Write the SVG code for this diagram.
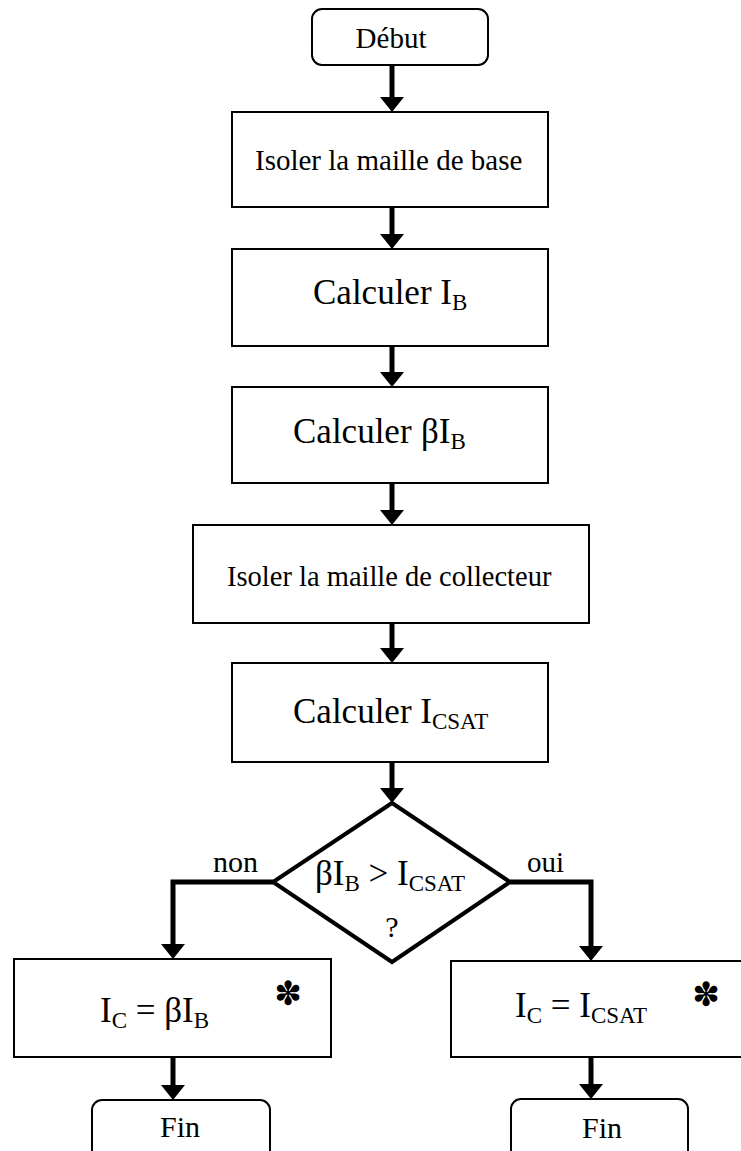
<svg xmlns="http://www.w3.org/2000/svg" width="741" height="1151" viewBox="0 0 741 1151">
<style>
.box{fill:#fff;stroke:#000;stroke-width:2}
.dia{fill:#fff;stroke:#000;stroke-width:4;stroke-linejoin:miter}
.con{fill:none;stroke:#000;stroke-width:5;marker-end:url(#ah)}
.t{font-family:"Liberation Serif","Times New Roman",serif;fill:#000}
.star{font-family:"DejaVu Sans",sans-serif;fill:#000;font-size:33px;text-anchor:middle}
</style>
<defs>
<marker id="ah" viewBox="0 -12 15 24" refX="5" refY="0" markerWidth="15" markerHeight="24" markerUnits="userSpaceOnUse" orient="auto">
<path d="M0,-12 L15,0 L0,12 z" fill="#000"/>
</marker>
</defs>
<rect width="741" height="1151" fill="#fff"/>
<g id="connectors">
<path class="con" d="M392,65 V102"/>
<path class="con" d="M392,207 V239"/>
<path class="con" d="M392,346 V377"/>
<path class="con" d="M392,483 V515"/>
<path class="con" d="M392,623 V653"/>
<path class="con" d="M392,762 V793"/>
<path class="con" d="M273,882 H173 V949"/>
<path class="con" d="M510,882 H591 V951"/>
<path class="con" d="M173,1057 V1090"/>
<path class="con" d="M591,1057 V1089"/>
</g>
<g id="debut">
<rect class="box" x="312" y="9" width="176" height="56" rx="10"/>
<text class="t" x="391" y="48" font-size="29" text-anchor="middle">Début</text>
</g>
<g id="isoler-base">
<rect class="box" x="232" y="112" width="316" height="95"/>
<text class="t" x="255" y="170" font-size="29">Isoler la maille de base</text>
</g>
<g id="calc-ib">
<rect class="box" x="232" y="249" width="316" height="97"/>
<text class="t" x="313" y="304" font-size="35">Calculer I<tspan font-size="23" dy="6">B</tspan></text>
</g>
<g id="calc-bib">
<rect class="box" x="232" y="387" width="316" height="96"/>
<text class="t" x="293" y="443" font-size="35">Calculer <tspan x="421">βI</tspan><tspan font-size="23" dy="6">B</tspan></text>
</g>
<g id="isoler-coll">
<rect class="box" x="193" y="525" width="396" height="98"/>
<text class="t" x="227" y="586" font-size="28.5">Isoler la maille de collecteur</text>
</g>
<g id="calc-icsat">
<rect class="box" x="232" y="663" width="316" height="99"/>
<text class="t" x="293" y="723" font-size="35">Calculer I<tspan font-size="23" dy="6">CSAT</tspan></text>
</g>
<g id="decision">
<polygon class="dia" points="392,803 510,882 392,962 273,882"/>
<text class="t" x="315" y="885" font-size="35">βI<tspan font-size="23" dy="6">B</tspan><tspan dy="-6"> &gt; I</tspan><tspan font-size="23" dy="6">CSAT</tspan></text>
<text class="t" x="392" y="937" font-size="30" text-anchor="middle">?</text>
<text class="t" x="213" y="872" font-size="30">non</text>
<text class="t" x="527" y="872" font-size="29">oui</text>
</g>
<g id="ic-bib">
<rect class="box" x="14" y="959" width="317" height="98"/>
<text class="t" x="100" y="1022" font-size="35">I<tspan font-size="23" dy="6">C</tspan><tspan dy="-6"> = βI</tspan><tspan font-size="23" dy="6">B</tspan></text>
<text class="star" x="288" y="1005">✽</text>
</g>
<g id="ic-icsat">
<rect class="box" x="451" y="961" width="300" height="96"/>
<text class="t" x="515" y="1017" font-size="35">I<tspan font-size="23" dy="6">C</tspan><tspan dy="-6"> = I</tspan><tspan font-size="23" dy="6">CSAT</tspan></text>
<text class="star" x="706" y="1006">✽</text>
</g>
<g id="fin-left">
<rect class="box" x="92" y="1100" width="178" height="80" rx="10"/>
<text class="t" x="180" y="1137" font-size="30" text-anchor="middle">Fin</text>
</g>
<g id="fin-right">
<rect class="box" x="511" y="1099" width="177" height="80" rx="10"/>
<text class="t" x="602" y="1138" font-size="30" text-anchor="middle">Fin</text>
</g>
</svg>
